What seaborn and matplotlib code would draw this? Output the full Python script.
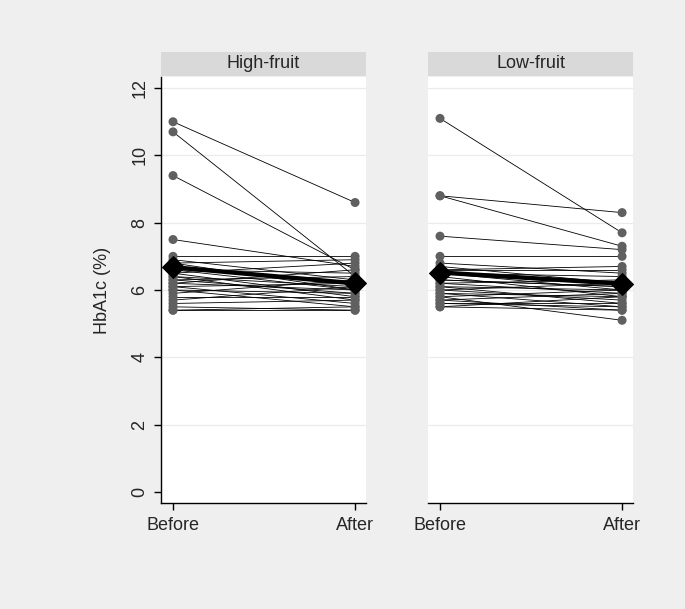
import numpy as np
import pandas as pd
import matplotlib
matplotlib.use("Agg")
import matplotlib.pyplot as plt
import seaborn as sns

groups = ["High-fruit", "Low-fruit"]
timepoints = ["Before", "After"]

high_before = [11.0, 10.7, 9.4, 7.5, 7.0, 6.9, 6.8, 6.8, 6.7, 6.6, 6.5, 6.5, 6.4, 6.4, 6.3,
               6.3, 6.2, 6.2, 6.1, 6.1, 6.0, 6.0, 5.9, 5.8, 5.7, 5.6, 5.5, 5.4, 5.4, 6.6]
high_after = [8.6, 6.4, 6.6, 6.7, 7.0, 6.3, 6.9, 6.0, 6.2, 6.5, 5.8, 6.8, 6.1, 5.7, 6.4,
              5.9, 6.0, 6.6, 5.6, 6.2, 5.9, 5.5, 6.3, 5.8, 6.1, 5.7, 5.4, 5.4, 5.5, 6.0]
low_before = [11.1, 8.8, 8.8, 7.6, 7.0, 6.8, 6.7, 6.6, 6.5, 6.5, 6.4, 6.3, 6.2, 6.2, 6.1,
              6.1, 6.0, 6.0, 5.9, 5.9, 5.8, 5.8, 5.7, 5.7, 5.6, 5.6, 5.5, 5.5, 6.3, 6.6]
low_after = [7.7, 8.3, 7.3, 7.2, 7.0, 6.5, 6.2, 6.7, 6.0, 6.4, 5.8, 6.1, 5.9, 6.3, 5.6,
             6.0, 5.7, 6.2, 5.5, 5.8, 5.1, 6.0, 5.4, 5.9, 5.6, 5.5, 5.8, 5.4, 6.1, 6.6]

yticks = [0, 2, 4, 6, 8, 10, 12]

rows = []
for g, before, after in [(groups[0], high_before, high_after), (groups[1], low_before, low_after)]:
    for i, (b, a) in enumerate(zip(before, after)):
        rows.append({"group": g, "id": f"{g}-{i}", "t": 0, "hba1c": b})
        rows.append({"group": g, "id": f"{g}-{i}", "t": 1, "hba1c": a})
df = pd.DataFrame(rows)

sns.set_style("white")
plt.rcParams["font.family"] = ["Liberation Sans", "DejaVu Sans"]

bg = "#efefef"
fig = plt.figure(figsize=(6.85, 6.09), dpi=100, facecolor=bg)

panel_left = [161 / 685, 428 / 685]
pw = 205 / 685
pb = 1 - 503 / 609
ph = 426 / 609
sh = 24 / 609

for k, g in enumerate(groups):
    ax = fig.add_axes([panel_left[k], pb, pw, ph])
    sub = df[df["group"] == g]
    sns.lineplot(data=sub, x="t", y="hba1c", units="id", estimator=None,
                 color="black", lw=0.6, ax=ax, legend=False, zorder=2)
    sns.scatterplot(data=sub, x="t", y="hba1c", color="#606060", s=42,
                    edgecolor="none", ax=ax, legend=False, zorder=3)
    means = sub.groupby("t")["hba1c"].mean().reset_index()
    sns.lineplot(data=means, x="t", y="hba1c", color="black", lw=3.2,
                 marker="D", markersize=11, markeredgecolor="black", ax=ax,
                 legend=False, zorder=4)

    ax.set_xlim(-0.066, 1.06)
    ax.set_ylim(-0.33, 12.33)
    ax.set_xticks([0, 1])
    ax.set_xticklabels(timepoints, fontsize=13)
    ax.set_yticks(yticks)
    for y in yticks[1:]:
        ax.axhline(y, color="#ebebeb", lw=0.9, zorder=0)
    ax.set_xlabel("")
    ax.set_ylabel("")
    ax.set_facecolor("white")
    for s in ["top", "right"]:
        ax.spines[s].set_visible(False)
    ax.spines["bottom"].set_color("black")
    ax.spines["bottom"].set_linewidth(1.0)
    ax.tick_params(axis="x", direction="out", length=5, width=1, color="black", pad=5,
                   bottom=True)
    if k == 0:
        ax.spines["left"].set_color("black")
        ax.spines["left"].set_linewidth(1.0)
        ax.set_yticklabels([str(y) for y in yticks], fontsize=13, rotation=90, va="center")
        ax.tick_params(axis="y", direction="out", length=5, width=1, color="black", pad=4,
                       left=True)
        ax.set_ylabel("HbA1c (%)", fontsize=13, labelpad=15)
    else:
        ax.spines["left"].set_visible(False)
        ax.tick_params(axis="y", left=False, labelleft=False)

    sax = fig.add_axes([panel_left[k], pb + ph + 1 / 609, pw, sh])
    sax.set_facecolor("#d9d9d9")
    sax.set_xticks([])
    sax.set_yticks([])
    for s in sax.spines.values():
        s.set_visible(False)
    sax.text(0.5, 0.5, g, ha="center", va="center", fontsize=13, transform=sax.transAxes)

fig.savefig("out.png", dpi=100, facecolor=bg)
